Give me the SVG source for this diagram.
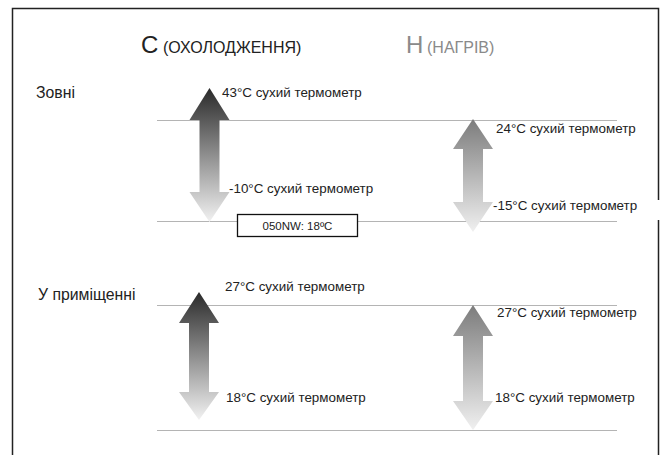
<svg xmlns="http://www.w3.org/2000/svg" width="662" height="455" viewBox="0 0 662 455">
<style>
text{font-family:"Liberation Sans",Arial,sans-serif;fill:#222}
.lbl{font-size:13.4px}
.row{font-size:15.8px}
.big{font-size:24px}
.sub{font-size:16px}
.gray{fill:#8a8a8a}
.rule{stroke:#b4b4b4;stroke-width:1;fill:none}
</style>
<defs>
<linearGradient id="gCool" x1="0" y1="0" x2="0" y2="1">
<stop offset="0" stop-color="#2a2a2a"/>
<stop offset="1" stop-color="#f2f2f2"/>
</linearGradient>
<linearGradient id="gHeat" x1="0" y1="0" x2="0" y2="1">
<stop offset="0" stop-color="#7c7c7c"/>
<stop offset="1" stop-color="#f0f0f0"/>
</linearGradient>
</defs>
<rect width="662" height="455" fill="#fff"/>
<path d="M12.5,455 V8.5 H658.5 V200 M658.5,220 V455" fill="none" stroke="#222" stroke-width="1.5"/>

<g id="titles">
<text x="141" y="53" class="big">C</text>
<text x="163" y="53" class="sub">(ОХОЛОДЖЕННЯ)</text>
<text x="406" y="53" class="big gray">H</text>
<text x="427" y="53" class="sub gray">(НАГРІВ)</text>
</g>

<g id="rows">
<text x="36" y="98" class="row">Зовні</text>
<text x="38" y="300" class="row">У приміщенні</text>
</g>

<g id="connectors">
<line x1="157" y1="120.5" x2="617" y2="120.5" class="rule"/>
<line x1="157" y1="221.5" x2="617" y2="221.5" class="rule"/>
<line x1="157" y1="305.5" x2="617" y2="305.5" class="rule"/>
<line x1="157" y1="430.5" x2="617" y2="430.5" class="rule"/>
</g>

<g id="cool-outside">
<path d="M209.5,88 L229.5,120 L219.5,120 L219.5,192 L229.5,192 L209.5,222 L189.5,192 L199.5,192 L199.5,120 L189.5,120 Z" fill="url(#gCool)"/>
<text x="222" y="97" class="lbl">43°C сухий термометр</text>
<text x="229" y="193" class="lbl">-10°C сухий термометр</text>
</g>

<g id="box-050nw">
<rect x="237.5" y="214.5" width="120" height="22" fill="#fff" stroke="#111" stroke-width="1.3"/>
<text x="297.5" y="229.5" font-size="11.5" text-anchor="middle">050NW: 18ºC</text>
</g>

<g id="heat-outside">
<path d="M473,119 L493,149 L483,149 L483,202 L493,202 L473,232 L453,202 L463,202 L463,149 L453,149 Z" fill="url(#gHeat)"/>
<text x="496" y="133" class="lbl">24°C сухий термометр</text>
<text x="493" y="210" class="lbl">-15°C сухий термометр</text>
</g>

<g id="cool-inside">
<path d="M199,292 L219,323 L209,323 L209,392 L219,392 L199,420 L179,392 L189,392 L189,323 L179,323 Z" fill="url(#gCool)"/>
<text x="225" y="291" class="lbl">27°C сухий термометр</text>
<text x="226" y="402" class="lbl">18°C сухий термометр</text>
</g>

<g id="heat-inside">
<path d="M473,305 L493,336 L483,336 L483,401 L493,401 L473,430 L453,401 L463,401 L463,336 L453,336 Z" fill="url(#gHeat)"/>
<text x="497" y="317" class="lbl">27°C сухий термометр</text>
<text x="495" y="402" class="lbl">18°C сухий термометр</text>
</g>
</svg>
